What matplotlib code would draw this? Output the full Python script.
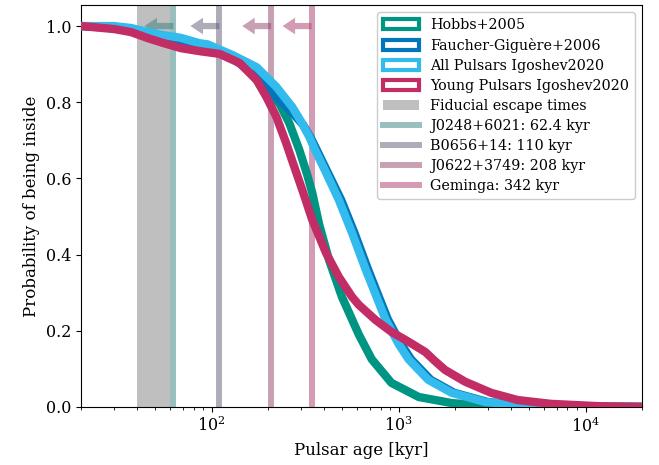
import matplotlib
matplotlib.use("Agg")
import matplotlib.pyplot as plt
from matplotlib.patches import Patch
from matplotlib.lines import Line2D

plt.rcParams['font.family'] = ['DejaVu Serif']

# --- data ---
hobbs_age = [20, 30, 37, 45.7, 55.5, 68.4, 86, 110, 141, 174, 196, 231, 260, 294, 324, 345, 376, 424, 497, 612, 718, 915, 1280, 1920, 3120, 5000, 20000]
hobbs_p   = [1.0, 0.995, 0.99, 0.978, 0.965, 0.952, 0.94, 0.928, 0.905, 0.862, 0.835, 0.795, 0.745, 0.675, 0.610, 0.562, 0.478, 0.386, 0.289, 0.190, 0.125, 0.063, 0.026, 0.010, 0.002, 0.0, 0.0]

fg_age = [20, 30, 37, 45.7, 55.5, 68.4, 86, 95, 129, 174, 196, 230, 270, 309, 340, 367, 421, 493, 580, 687, 775, 875, 1030, 1165, 1485, 1980, 2990, 4460, 7300, 20000]
fg_p   = [1.0, 0.997, 0.993, 0.98, 0.972, 0.962, 0.948, 0.944, 0.915, 0.87, 0.84, 0.805, 0.772, 0.74, 0.705, 0.672, 0.612, 0.543, 0.457, 0.36, 0.295, 0.23, 0.165, 0.125, 0.071, 0.037, 0.013, 0.005, 0.001, 0.0]

all_age = [20, 30, 37, 45.7, 55.5, 68.4, 86, 95, 129, 174, 222, 270, 300, 332, 357, 409, 479, 563, 667, 753, 850, 1000, 1130, 1440, 1920, 2900, 4330, 7100, 20000]
all_p   = [1.0, 1.0, 0.995, 0.984, 0.976, 0.969, 0.955, 0.952, 0.924, 0.892, 0.840, 0.787, 0.75, 0.71, 0.675, 0.615, 0.543, 0.457, 0.36, 0.295, 0.23, 0.165, 0.125, 0.071, 0.037, 0.013, 0.005, 0.001, 0.0]

young_age = [20, 30.2, 37.1, 45.7, 55.5, 68.4, 86.3, 110, 141, 174, 196, 222, 250, 270, 305, 345, 409, 479, 563, 612, 753, 915, 1130, 1390, 1550, 1770, 2270, 3120, 4330, 6500, 11600, 20000]
young_p   = [1.0, 0.992, 0.984, 0.968, 0.955, 0.942, 0.934, 0.927, 0.903, 0.858, 0.814, 0.761, 0.693, 0.645, 0.570, 0.491, 0.404, 0.341, 0.289, 0.268, 0.228, 0.197, 0.171, 0.144, 0.122, 0.097, 0.066, 0.037, 0.018, 0.008, 0.002, 0.0]

fiducial_range = [40, 60]
pulsar_ages = [62.4, 110, 208, 342]
pulsar_labels = ['J0248+6021: 62.4 kyr', 'B0656+14: 110 kyr', 'J0622+3749: 208 kyr', 'Geminga: 342 kyr']
pulsar_colors = ['#337f7f', '#5d5b73', '#93436b', '#a93b6b']

curve_labels = ['Hobbs+2005', 'Faucher-Giguère+2006', 'All Pulsars Igoshev2020', 'Young Pulsars Igoshev2020']
curve_colors = ['#009483', '#0077bb', '#33bbee', '#c22d66']

fig = plt.figure(figsize=(6.59, 4.65), dpi=100)
ax = fig.add_axes([0.123, 0.125, 0.851, 0.864])

ax.axvspan(fiducial_range[0], fiducial_range[1], color='gray', alpha=0.5, lw=0, zorder=1)
for age, col in zip(pulsar_ages, pulsar_colors):
    ax.axvline(age, color=col, alpha=0.5, lw=4.3, zorder=1)
    ax.annotate('', xy=(age * 0.7, 1.0), xytext=(age, 1.0),
                arrowprops=dict(width=4.5, headwidth=12, headlength=9, color=col, alpha=0.5, lw=0),
                zorder=1)

for a, p, c in zip([hobbs_age, fg_age, all_age, young_age],
                   [hobbs_p, fg_p, all_p, young_p], curve_colors):
    ax.plot(a, p, color=c, lw=6, solid_capstyle='butt', solid_joinstyle='round', zorder=3)

ax.set_xscale('log')
ax.set_xlim(20, 2e4)
ax.set_ylim(0, 1.055)
ax.set_xlabel('Pulsar age [kyr]', fontsize=12)
ax.set_ylabel('Probability of being inside', fontsize=12)
ax.tick_params(labelsize=11.5)

handles = [Patch(facecolor='white', edgecolor=c, lw=3) for c in curve_colors]
handles.append(Patch(facecolor='gray', alpha=0.5, edgecolor='none'))
handles += [Line2D([0], [0], color=c, alpha=0.5, lw=4.3) for c in pulsar_colors]
labels = curve_labels + ['Fiducial escape times'] + pulsar_labels
ax.legend(handles, labels, loc='upper right', fontsize=10.3, framealpha=1,
          handlelength=2.5, labelspacing=0.42, borderaxespad=0.5)

fig.savefig('out.png', dpi=100)
